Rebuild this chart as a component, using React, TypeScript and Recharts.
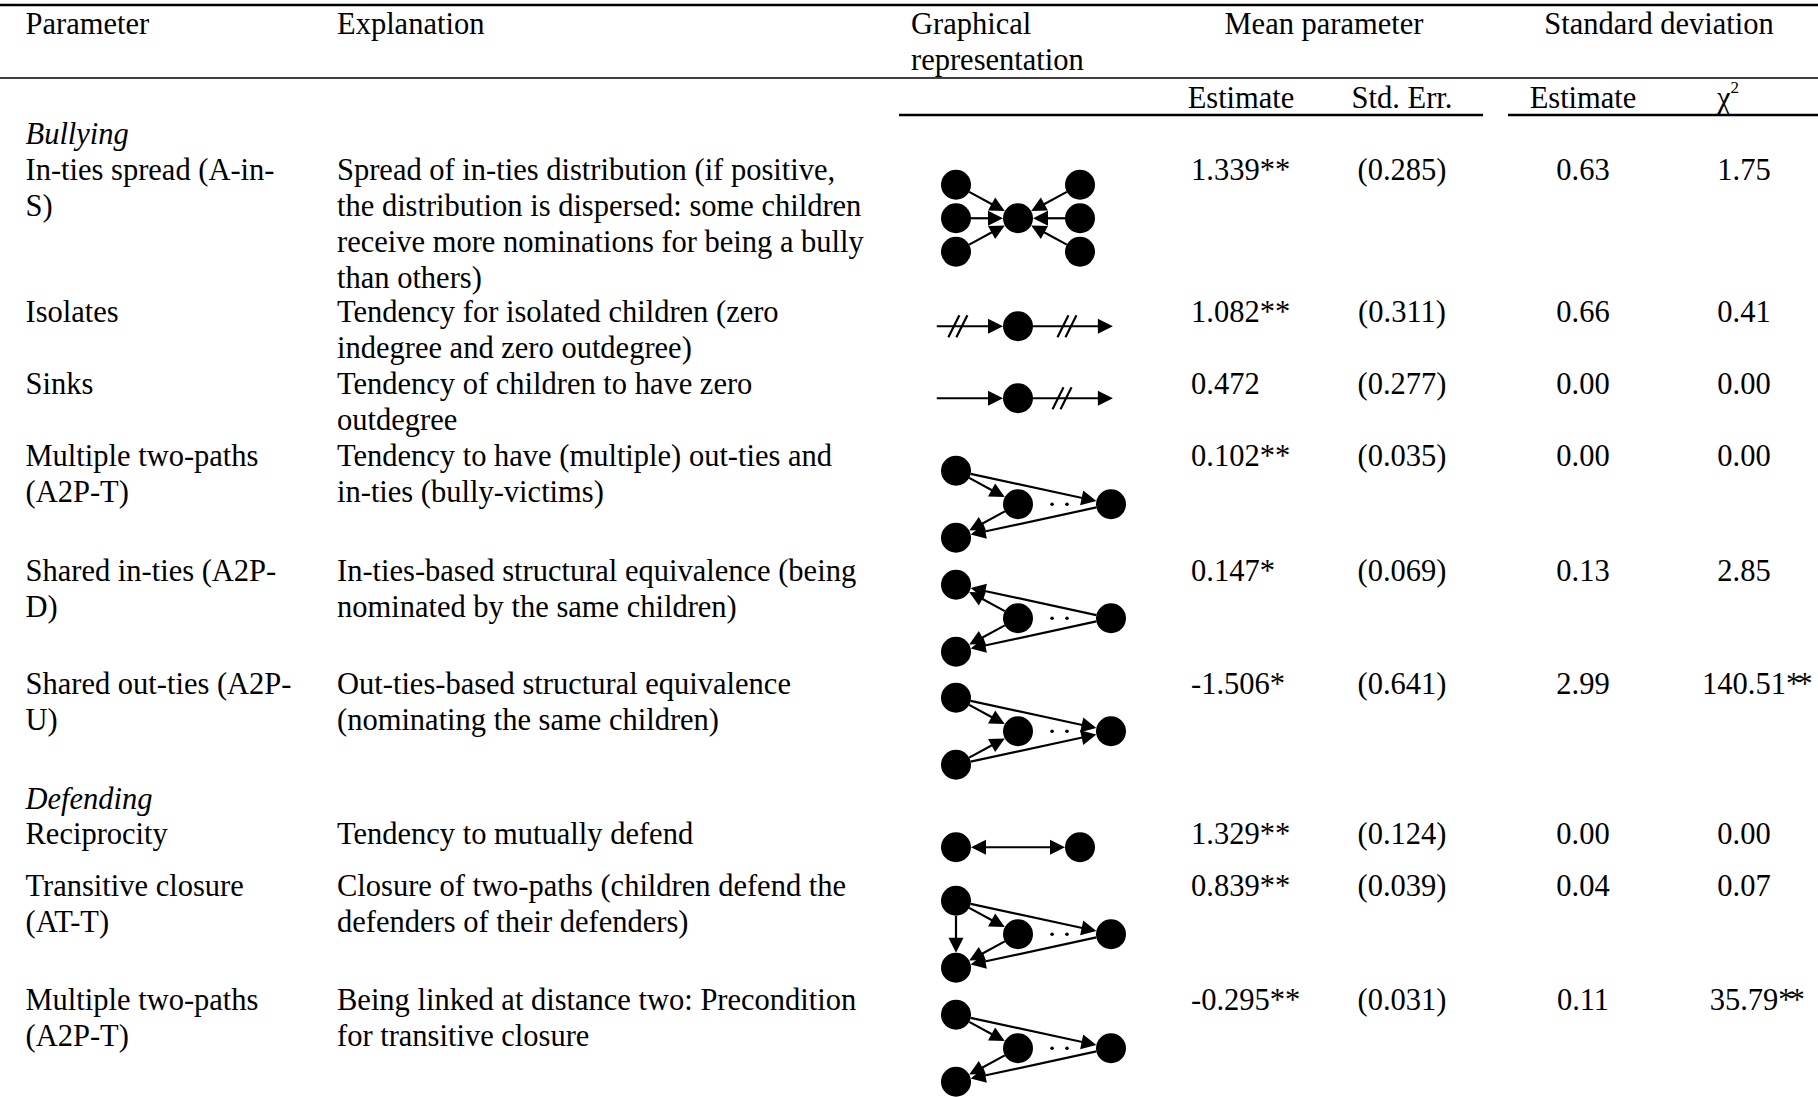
import React from 'react'
import { ReferenceLine, Scatter, ScatterChart, XAxis, YAxis } from 'recharts'

type Pt = { x: number; y: number; node?: boolean }
type Edge = { from: number; to: number; both?: boolean; cut?: number }

// ---- table content ----
const params = [
  ['In-ties spread (A-in-', 'S)'],
  ['Isolates'],
  ['Sinks'],
  ['Multiple two-paths', '(A2P-T)'],
  ['Shared in-ties (A2P-', 'D)'],
  ['Shared out-ties (A2P-', 'U)'],
  ['Reciprocity'],
  ['Transitive closure', '(AT-T)'],
  ['Multiple two-paths', '(A2P-T)'],
]

const explanations = [
  [
    'Spread of in-ties distribution (if positive,',
    'the distribution is dispersed: some children',
    'receive more nominations for being a bully',
    'than others)',
  ],
  ['Tendency for isolated children (zero', 'indegree and zero outdegree)'],
  ['Tendency of children to have zero', 'outdegree'],
  ['Tendency to have (multiple) out-ties and', 'in-ties (bully-victims)'],
  ['In-ties-based structural equivalence (being', 'nominated by the same children)'],
  ['Out-ties-based structural equivalence', '(nominating the same children)'],
  ['Tendency to mutually defend'],
  ['Closure of two-paths (children defend the', 'defenders of their defenders)'],
  ['Being linked at distance two: Precondition', 'for transitive closure'],
]

const meanEst = ['1.339**', '1.082**', '0.472', '0.102**', '0.147*', '-1.506*', '1.329**', '0.839**', '-0.295**']
const meanSe = ['(0.285)', '(0.311)', '(0.277)', '(0.035)', '(0.069)', '(0.641)', '(0.124)', '(0.039)', '(0.031)']
const sdEst = ['0.63', '0.66', '0.00', '0.00', '0.13', '2.99', '0.00', '0.04', '0.11']
const sdChi = ['1.75', '0.41', '0.00', '0.00', '2.85', '140.51**', '0.00', '0.07', '35.79**']

const groups = ['Bullying', 'Defending']

// ---- graph diagrams (unit grid) ----
const inTiesPts: Pt[] = [
  { x: 0, y: -1, node: true },
  { x: 0, y: 0, node: true },
  { x: 0, y: 1, node: true },
  { x: 1, y: 0, node: true },
  { x: 2, y: -1, node: true },
  { x: 2, y: 0, node: true },
  { x: 2, y: 1, node: true },
]
const inTiesEdges: Edge[] = [
  { from: 0, to: 3 },
  { from: 1, to: 3 },
  { from: 2, to: 3 },
  { from: 4, to: 3 },
  { from: 5, to: 3 },
  { from: 6, to: 3 },
]

const chainPts: Pt[] = [{ x: -0.31, y: 0 }, { x: 1, y: 0, node: true }, { x: 2.53, y: 0 }]
const isolatesEdges: Edge[] = [
  { from: 0, to: 1, cut: 0.03 },
  { from: 1, to: 2, cut: 1.79 },
]
const sinksEdges: Edge[] = [
  { from: 0, to: 1 },
  { from: 1, to: 2, cut: 1.71 },
]

// top-left, middle, right, bottom-left
const twoPathPts: Pt[] = [
  { x: 0, y: -1, node: true },
  { x: 1, y: 0, node: true },
  { x: 2.5, y: 0, node: true },
  { x: 0, y: 1, node: true },
]
const gapDots = [
  { x: 1.55, y: 0 },
  { x: 1.79, y: 0 },
]
const a2ptEdges: Edge[] = [
  { from: 0, to: 1 },
  { from: 0, to: 2 },
  { from: 1, to: 3 },
  { from: 2, to: 3 },
]
const a2pdEdges: Edge[] = [
  { from: 1, to: 0 },
  { from: 2, to: 0 },
  { from: 1, to: 3 },
  { from: 2, to: 3 },
]
const a2puEdges: Edge[] = [
  { from: 0, to: 1 },
  { from: 0, to: 2 },
  { from: 3, to: 1 },
  { from: 3, to: 2 },
]
const attEdges: Edge[] = [{ from: 0, to: 3 }, ...a2ptEdges]

const recipPts: Pt[] = [
  { x: 0, y: 0, node: true },
  { x: 2, y: 0, node: true },
]
const recipEdges: Edge[] = [{ from: 0, to: 1, both: true }]

const diagrams = [
  { pts: inTiesPts, edges: inTiesEdges },
  { pts: chainPts, edges: isolatesEdges },
  { pts: chainPts, edges: sinksEdges },
  { pts: twoPathPts, edges: a2ptEdges, dots: gapDots },
  { pts: twoPathPts, edges: a2pdEdges, dots: gapDots },
  { pts: twoPathPts, edges: a2puEdges, dots: gapDots },
  { pts: recipPts, edges: recipEdges },
  { pts: twoPathPts, edges: attEdges, dots: gapDots },
  { pts: twoPathPts, edges: a2ptEdges, dots: gapDots },
]

// ---- layout ----
const W = 1818
const H = 1097
const FONT = 'Liberation Serif, Times New Roman, Times, serif'
const FS = 30.5
const LH = 36
const rowBase = [179.5, 322, 393.5, 465.5, 580.5, 693.5, 844, 896, 1010]
const groupBase = [143.5, 808.5]
const diagCy = [218, 326, 398, 504, 618, 731, 847, 934, 1048]
const col = { param: 25.5, expl: 337, graph: 911, est: 1191, se: 1402, sd: 1583, chi: 1744 }

const UX = 62
const UY = 33.5
const R = 15
const HL = 15
const HW = 7.5
const LW = 2.2
const X_DOM: [number, number] = [-0.5, 3]
const Y_DOM: [number, number] = [-1.5, 1.5]

function T({
  x,
  y,
  anchor = 'start',
  italic,
  children,
}: {
  x: number
  y: number
  anchor?: 'start' | 'middle' | 'end'
  italic?: boolean
  children: React.ReactNode
}) {
  return (
    <text
      x={x}
      y={y}
      textAnchor={anchor}
      style={{ fontFamily: FONT, fontSize: FS, fontStyle: italic ? 'italic' : 'normal' }}
      fill="#000"
    >
      {children}
    </text>
  )
}

// width of a number in Times (digits 0.5em, point 0.25em)
function numWidth(s: string) {
  let w = 0
  for (const c of s) w += c === '.' ? 0.25 : 0.5
  return w * FS
}

function head(tx: number, ty: number, ux: number, uy: number) {
  const bx = tx - ux * HL
  const by = ty - uy * HL
  return `${tx},${ty} ${bx - uy * HW},${by + ux * HW} ${bx + uy * HW},${by - ux * HW}`
}

function edgeShape(a: Pt, b: Pt, e: Edge) {
  return (p: any) => {
    const { x1, y1, x2, y2 } = p
    const dx = x2 - x1
    const dy = y2 - y1
    const len = Math.hypot(dx, dy) || 1
    const ux = dx / len
    const uy = dy / len
    const sx = x1 + ux * (a.node ? R : 0)
    const sy = y1 + uy * (a.node ? R : 0)
    const tx = x2 - ux * (b.node ? R : 0)
    const ty = y2 - uy * (b.node ? R : 0)
    const ls = e.both ? HL * 0.8 : 0
    let cut: React.ReactNode = null
    if (e.cut != null) {
      const t = (e.cut - a.x) / (b.x - a.x)
      const cx = x1 + t * dx
      const cy = y1 + t * dy
      cut = [-4, 4].map((o) => (
        <line key={o} x1={cx + o - 5.5} y1={cy + 11} x2={cx + o + 5.5} y2={cy - 11} stroke="#000" strokeWidth={LW} />
      ))
    }
    return (
      <g>
        <line
          x1={sx + ux * ls}
          y1={sy + uy * ls}
          x2={tx - ux * HL * 0.8}
          y2={ty - uy * HL * 0.8}
          stroke="#000"
          strokeWidth={LW}
        />
        <polygon points={head(tx, ty, ux, uy)} fill="#000" />
        {e.both && <polygon points={head(sx, sy, -ux, -uy)} fill="#000" />}
        {cut}
      </g>
    )
  }
}

function Diagram({ pts, edges, dots, cy }: { pts: Pt[]; edges: Edge[]; dots?: { x: number; y: number }[]; cy: number }) {
  const w = (X_DOM[1] - X_DOM[0]) * UX
  const h = (Y_DOM[1] - Y_DOM[0]) * UY
  const left = 956 + X_DOM[0] * UX
  return (
    <div style={{ position: 'absolute', left, top: cy - h / 2, width: w, height: h }}>
      <ScatterChart width={w} height={h} margin={{ top: 0, right: 0, bottom: 0, left: 0 }}>
        <XAxis type="number" dataKey="x" domain={X_DOM} allowDataOverflow hide />
        <YAxis type="number" dataKey="y" domain={Y_DOM} allowDataOverflow reversed hide />
        {edges.map((e, i) => {
          const a = pts[e.from]
          const b = pts[e.to]
          return (
            <ReferenceLine
              key={i}
              segment={[
                { x: a.x, y: a.y },
                { x: b.x, y: b.y },
              ]}
              ifOverflow="visible"
              shape={edgeShape(a, b, e)}
            />
          )
        })}
        <Scatter
          data={pts.filter((p) => p.node)}
          isAnimationActive={false}
          shape={(p: any) => <circle cx={p.cx} cy={p.cy} r={R} fill="#000" />}
        />
        {dots && (
          <Scatter
            data={dots}
            isAnimationActive={false}
            shape={(p: any) => <circle cx={p.cx} cy={p.cy} r={1.8} fill="#000" />}
          />
        )}
      </ScatterChart>
    </div>
  )
}

function ChiValue({ v, y }: { v: string; y: number }) {
  const num = v.replace(/\*/g, '')
  const stars = v.slice(num.length)
  return (
    <T x={col.chi - numWidth(num) / 2} y={y}>
      {num}
      {stars && <tspan letterSpacing={-4}>{stars}</tspan>}
    </T>
  )
}

export default function App() {
  return (
    <div style={{ position: 'absolute', left: 0, top: 0, width: W, height: H, background: '#fff', overflow: 'hidden' }}>
      <svg width={W} height={H} style={{ position: 'absolute', left: 0, top: 0 }}>
        {/* rules */}
        <line x1={0} x2={W} y1={5} y2={5} stroke="#000" strokeWidth={2.5} />
        <line x1={0} x2={W} y1={78} y2={78} stroke="#000" strokeWidth={1.5} />
        <line x1={899} x2={1483} y1={115} y2={115} stroke="#000" strokeWidth={2.5} />
        <line x1={1508} x2={W} y1={115} y2={115} stroke="#000" strokeWidth={2.5} />

        {/* header */}
        <T x={col.param} y={34}>Parameter</T>
        <T x={col.expl} y={34}>Explanation</T>
        <T x={col.graph} y={34}>Graphical</T>
        <T x={col.graph} y={70}>representation</T>
        <T x={1324} y={34} anchor="middle">Mean parameter</T>
        <T x={1659} y={34} anchor="middle">Standard deviation</T>
        <T x={1241} y={108} anchor="middle">Estimate</T>
        <T x={1402} y={108} anchor="middle">Std. Err.</T>
        <T x={1583} y={108} anchor="middle">Estimate</T>
        <T x={1728} y={108} anchor="middle">
          χ
          <tspan dy={-15} fontSize={17}>
            2
          </tspan>
        </T>

        {groups.map((g, i) => (
          <T key={g} x={col.param} y={groupBase[i]} italic>
            {g}
          </T>
        ))}

        {params.map((lines, i) => (
          <g key={i}>
            {lines.map((s, j) => (
              <T key={j} x={col.param} y={rowBase[i] + j * LH}>
                {s}
              </T>
            ))}
            {explanations[i].map((s, j) => (
              <T key={'e' + j} x={col.expl} y={rowBase[i] + j * LH}>
                {s}
              </T>
            ))}
            <T x={col.est} y={rowBase[i]}>{meanEst[i]}</T>
            <T x={col.se} y={rowBase[i]} anchor="middle">
              {meanSe[i]}
            </T>
            <T x={col.sd} y={rowBase[i]} anchor="middle">
              {sdEst[i]}
            </T>
            <ChiValue v={sdChi[i]} y={rowBase[i]} />
          </g>
        ))}
      </svg>
      {diagrams.map((d, i) => (
        <Diagram key={i} pts={d.pts} edges={d.edges} dots={d.dots} cy={diagCy[i]} />
      ))}
    </div>
  )
}
